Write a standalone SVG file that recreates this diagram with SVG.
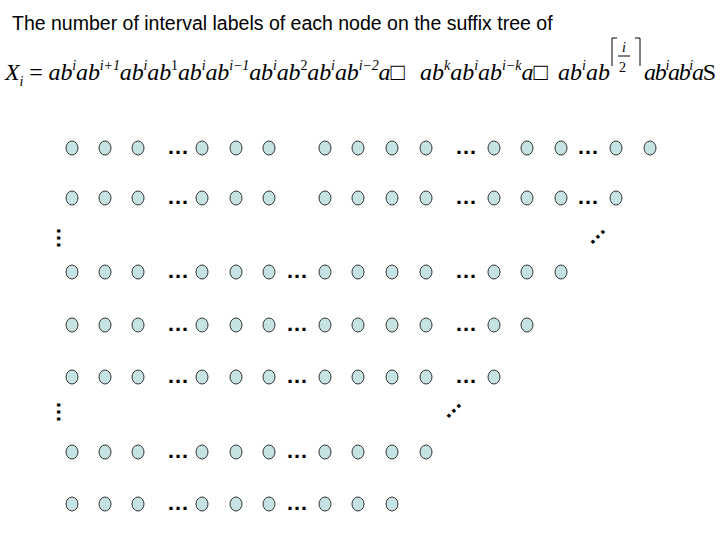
<svg xmlns="http://www.w3.org/2000/svg" width="720" height="540" viewBox="0 0 720 540">
<style>
.n{fill:#c5e3e3;stroke:#333;stroke-width:1}
.d{font-family:"Liberation Sans",sans-serif;font-size:22px;font-weight:bold;fill:#000}
.f{font-family:"Liberation Serif",serif;font-size:24px;font-style:italic}
.s{font-size:14px}
</style>
<rect width="720" height="540" fill="#fff"/>
<text x="12" y="30" font-family="Liberation Sans,sans-serif" font-size="19.5">The number of interval labels of each node on the suffix tree of</text>
<g class="f">
<text x="5" y="80" textLength="400" lengthAdjust="spacing">X<tspan class="s" dy="6">i</tspan><tspan dy="-6" font-style="normal"> = </tspan>ab<tspan class="s" dy="-10">i</tspan><tspan dy="10">ab</tspan><tspan class="s" dy="-10">i+1</tspan><tspan dy="10">ab</tspan><tspan class="s" dy="-10">i</tspan><tspan dy="10">ab</tspan><tspan class="s" dy="-10" font-style="normal">1</tspan><tspan dy="10">ab</tspan><tspan class="s" dy="-10">i</tspan><tspan dy="10">ab</tspan><tspan class="s" dy="-10">i−1</tspan><tspan dy="10">ab</tspan><tspan class="s" dy="-10">i</tspan><tspan dy="10">ab</tspan><tspan class="s" dy="-10" font-style="normal">2</tspan><tspan dy="10">ab</tspan><tspan class="s" dy="-10">i</tspan><tspan dy="10">ab</tspan><tspan class="s" dy="-10">i−2</tspan><tspan dy="10">a□</tspan></text>
<text x="420" y="80" textLength="128" lengthAdjust="spacing">ab<tspan class="s" dy="-10">k</tspan><tspan dy="10">ab</tspan><tspan class="s" dy="-10">i</tspan><tspan dy="10">ab</tspan><tspan class="s" dy="-10">i−k</tspan><tspan dy="10">a□</tspan></text>
<text x="558" y="80">ab<tspan class="s" dy="-10">i</tspan><tspan dy="10">ab</tspan></text>
<text x="622" y="52" class="s">i</text>
<text x="619" y="72" class="s" font-style="normal">2</text>
<text x="644" y="80" textLength="72" lengthAdjust="spacing">ab<tspan class="s" dy="-10">i</tspan><tspan dy="10">ab</tspan><tspan class="s" dy="-10">i</tspan><tspan dy="10">a</tspan><tspan font-style="normal">S</tspan></text>
</g>
<path d="M612 66V38H617M640 66V38H635M618 56H630" stroke="#000" stroke-width="1" fill="none"/>
<g id="nodes">
<g id="r1"><ellipse class="n" cx="72" cy="148" rx="6" ry="7"/><ellipse class="n" cx="105" cy="148" rx="6" ry="7"/><ellipse class="n" cx="138" cy="148" rx="6" ry="7"/><ellipse class="n" cx="202" cy="148" rx="6" ry="7"/><ellipse class="n" cx="236" cy="148" rx="6" ry="7"/><ellipse class="n" cx="269" cy="148" rx="6" ry="7"/><ellipse class="n" cx="325" cy="148" rx="6" ry="7"/><ellipse class="n" cx="358" cy="148" rx="6" ry="7"/><ellipse class="n" cx="392" cy="148" rx="6" ry="7"/><ellipse class="n" cx="426" cy="148" rx="6" ry="7"/><ellipse class="n" cx="494" cy="148" rx="6" ry="7"/><ellipse class="n" cx="527" cy="148" rx="6" ry="7"/><ellipse class="n" cx="561" cy="148" rx="6" ry="7"/><ellipse class="n" cx="616" cy="148" rx="6" ry="7"/><ellipse class="n" cx="650" cy="148" rx="6" ry="7"/></g>
<g id="r2"><ellipse class="n" cx="72" cy="198" rx="6" ry="7"/><ellipse class="n" cx="105" cy="198" rx="6" ry="7"/><ellipse class="n" cx="138" cy="198" rx="6" ry="7"/><ellipse class="n" cx="202" cy="198" rx="6" ry="7"/><ellipse class="n" cx="236" cy="198" rx="6" ry="7"/><ellipse class="n" cx="269" cy="198" rx="6" ry="7"/><ellipse class="n" cx="325" cy="198" rx="6" ry="7"/><ellipse class="n" cx="358" cy="198" rx="6" ry="7"/><ellipse class="n" cx="392" cy="198" rx="6" ry="7"/><ellipse class="n" cx="426" cy="198" rx="6" ry="7"/><ellipse class="n" cx="494" cy="198" rx="6" ry="7"/><ellipse class="n" cx="527" cy="198" rx="6" ry="7"/><ellipse class="n" cx="561" cy="198" rx="6" ry="7"/><ellipse class="n" cx="616" cy="198" rx="6" ry="7"/></g>
<g id="r3"><ellipse class="n" cx="72" cy="272" rx="6" ry="7"/><ellipse class="n" cx="105" cy="272" rx="6" ry="7"/><ellipse class="n" cx="138" cy="272" rx="6" ry="7"/><ellipse class="n" cx="202" cy="272" rx="6" ry="7"/><ellipse class="n" cx="236" cy="272" rx="6" ry="7"/><ellipse class="n" cx="269" cy="272" rx="6" ry="7"/><ellipse class="n" cx="325" cy="272" rx="6" ry="7"/><ellipse class="n" cx="358" cy="272" rx="6" ry="7"/><ellipse class="n" cx="392" cy="272" rx="6" ry="7"/><ellipse class="n" cx="426" cy="272" rx="6" ry="7"/><ellipse class="n" cx="494" cy="272" rx="6" ry="7"/><ellipse class="n" cx="527" cy="272" rx="6" ry="7"/><ellipse class="n" cx="561" cy="272" rx="6" ry="7"/></g>
<g id="r4"><ellipse class="n" cx="72" cy="325" rx="6" ry="7"/><ellipse class="n" cx="105" cy="325" rx="6" ry="7"/><ellipse class="n" cx="138" cy="325" rx="6" ry="7"/><ellipse class="n" cx="202" cy="325" rx="6" ry="7"/><ellipse class="n" cx="236" cy="325" rx="6" ry="7"/><ellipse class="n" cx="269" cy="325" rx="6" ry="7"/><ellipse class="n" cx="325" cy="325" rx="6" ry="7"/><ellipse class="n" cx="358" cy="325" rx="6" ry="7"/><ellipse class="n" cx="392" cy="325" rx="6" ry="7"/><ellipse class="n" cx="426" cy="325" rx="6" ry="7"/><ellipse class="n" cx="494" cy="325" rx="6" ry="7"/><ellipse class="n" cx="527" cy="325" rx="6" ry="7"/></g>
<g id="r5"><ellipse class="n" cx="72" cy="377" rx="6" ry="7"/><ellipse class="n" cx="105" cy="377" rx="6" ry="7"/><ellipse class="n" cx="138" cy="377" rx="6" ry="7"/><ellipse class="n" cx="202" cy="377" rx="6" ry="7"/><ellipse class="n" cx="236" cy="377" rx="6" ry="7"/><ellipse class="n" cx="269" cy="377" rx="6" ry="7"/><ellipse class="n" cx="325" cy="377" rx="6" ry="7"/><ellipse class="n" cx="358" cy="377" rx="6" ry="7"/><ellipse class="n" cx="392" cy="377" rx="6" ry="7"/><ellipse class="n" cx="426" cy="377" rx="6" ry="7"/><ellipse class="n" cx="494" cy="377" rx="6" ry="7"/></g>
<g id="r6"><ellipse class="n" cx="72" cy="452" rx="6" ry="7"/><ellipse class="n" cx="105" cy="452" rx="6" ry="7"/><ellipse class="n" cx="138" cy="452" rx="6" ry="7"/><ellipse class="n" cx="202" cy="452" rx="6" ry="7"/><ellipse class="n" cx="236" cy="452" rx="6" ry="7"/><ellipse class="n" cx="269" cy="452" rx="6" ry="7"/><ellipse class="n" cx="325" cy="452" rx="6" ry="7"/><ellipse class="n" cx="358" cy="452" rx="6" ry="7"/><ellipse class="n" cx="392" cy="452" rx="6" ry="7"/><ellipse class="n" cx="426" cy="452" rx="6" ry="7"/></g>
<g id="r7"><ellipse class="n" cx="72" cy="504" rx="6" ry="7"/><ellipse class="n" cx="105" cy="504" rx="6" ry="7"/><ellipse class="n" cx="138" cy="504" rx="6" ry="7"/><ellipse class="n" cx="202" cy="504" rx="6" ry="7"/><ellipse class="n" cx="236" cy="504" rx="6" ry="7"/><ellipse class="n" cx="269" cy="504" rx="6" ry="7"/><ellipse class="n" cx="325" cy="504" rx="6" ry="7"/><ellipse class="n" cx="358" cy="504" rx="6" ry="7"/><ellipse class="n" cx="392" cy="504" rx="6" ry="7"/></g>
</g>
<g id="dots" class="d" text-anchor="middle">
<text x="178" y="154">…</text><text x="466" y="154">…</text><text x="588" y="154">…</text>
<text x="178" y="204">…</text><text x="466" y="204">…</text><text x="588" y="204">…</text>
<text x="178" y="278">…</text><text x="297" y="278">…</text><text x="466" y="278">…</text>
<text x="178" y="331">…</text><text x="297" y="331">…</text><text x="466" y="331">…</text>
<text x="178" y="383">…</text><text x="297" y="383">…</text><text x="466" y="383">…</text>
<text x="178" y="458">…</text><text x="297" y="458">…</text>
<text x="178" y="510">…</text><text x="297" y="510">…</text>
<text transform="translate(57,238) rotate(90)">…</text>
<text transform="translate(57,412) rotate(90)">…</text>
<text transform="translate(599,238) rotate(-45)">…</text>
<text transform="translate(455,412) rotate(-45)">…</text>
</g>
</svg>
